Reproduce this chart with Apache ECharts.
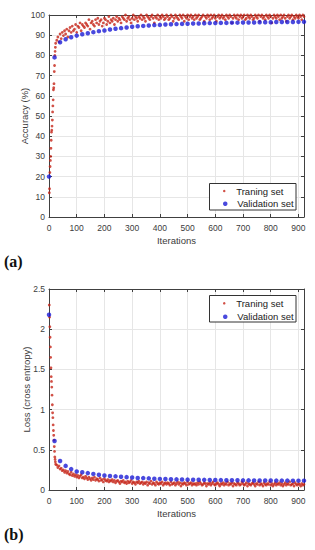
<!DOCTYPE html>
<html><head><meta charset="utf-8">
<script src="https://cdn.jsdelivr.net/npm/echarts@6/dist/echarts.min.js"></script>
<style>html,body{margin:0;padding:0;background:#fff}#c{width:315px;height:550px}</style>
</head><body><div id="c"></div>
<script>
// ---- data ----
const xTicks = [0,100,200,300,400,500,600,700,800,900];
const accTicks = [0,10,20,30,40,50,60,70,80,90,100];
const lossTicks = [0,0.5,1,1.5,2,2.5];
const xMax = 920;

const validStep = 20; // validation every 20 iterations, starting at 0
const validAcc = [20,79,86.5,88,89,89.8,90.5,91,91.5,92,92.3,92.8,93.2,93.5,93.8,94.2,94.4,94.6,94.8,95,95.1,95.3,95.4,95.5,95.6,95.7,95.8,95.8,95.9,96,96,96.1,96.1,96.2,96.2,96.3,96.3,96.3,96.4,96.4,96.4,96.5,96.5,96.5,96.5,96.6,96.6];
const validLoss = [2.18,0.61,0.36,0.30,0.26,0.23,0.22,0.21,0.20,0.19,0.18,0.175,0.17,0.165,0.16,0.155,0.15,0.148,0.145,0.14,0.138,0.136,0.134,0.132,0.13,0.129,0.128,0.127,0.126,0.125,0.124,0.123,0.122,0.122,0.121,0.12,0.12,0.119,0.119,0.118,0.118,0.117,0.117,0.117,0.116,0.116,0.116];

// training, iterations 1..24 (every iteration)
const trainEarlyStart = 1;
const trainAccEarly = [12,14,22,25,28,30,34,38,42,43,45,48,52,55,58,63,64,66,72,75,80,82,84,86];
const trainLossEarly = [2.30,2.15,2.03,1.90,1.78,1.65,1.52,1.41,1.35,1.28,1.18,1.06,0.96,0.90,0.81,0.74,0.68,0.62,0.54,0.48,0.41,0.38,0.35,0.32];

// training, iterations 28..920 every 4 iterations
const trainStart = 28, trainStep = 4;
const trainAcc = [
87.5,89.1,86.7,90.6,88.3,91.4,89.8,92.2,90.6,93.0,89.1,92.2,93.8,91.4,94.5,92.2,93.0,95.3,91.4,94.5,93.8,96.1,92.2,95.3,94.5,
93.8,96.1,95.3,94.5,97.7,93.0,96.1,96.9,95.3,94.5,97.7,96.1,98.4,95.3,96.9,97.7,94.5,96.1,98.4,97.7,95.3,96.9,99.2,96.1,97.7,
96.9,98.4,95.3,97.7,99.2,96.9,98.4,97.7,96.1,99.2,98.4,97.7,100,96.9,98.4,99.2,97.7,96.1,98.4,100,97.7,99.2,98.4,96.9,99.2,
98.4,100,97.7,99.2,98.4,96.9,100,99.2,98.4,97.7,99.2,100,98.4,96.1,99.2,98.4,100,97.7,99.2,98.4,100,99.2,97.7,98.4,100,
99.2,97.7,98.4,100,99.2,96.9,98.4,100,99.2,98.4,97.7,100,99.2,98.4,100,96.9,99.2,98.4,100,97.7,99.2,100,98.4,99.2,97.7,
100,98.4,99.2,100,97.7,98.4,99.2,100,96.9,99.2,98.4,100,99.2,97.7,100,98.4,99.2,100,98.4,96.9,99.2,100,98.4,99.2,100,
98.4,99.2,97.7,100,99.2,98.4,100,99.2,96.1,98.4,100,99.2,98.4,100,97.7,99.2,100,98.4,99.2,100,97.7,98.4,100,99.2,98.4,
100,99.2,97.7,98.4,100,99.2,98.4,100,96.9,99.2,100,98.4,99.2,97.7,100,99.2,98.4,100,99.2,96.1,98.4,100,99.2,98.4,100,
99.2,97.7,100,98.4,99.2,100,98.4,96.9,99.2,100,98.4,99.2,100,97.7,99.2,98.4,100,99.2,98.4,100,99.2,97.7,100,99.2];
const trainLoss = [
0.31,0.28,0.30,0.26,0.27,0.24,0.25,0.22,0.24,0.21,0.23,0.20,0.19,0.22,0.18,0.20,0.17,0.19,0.16,0.18,0.15,0.17,0.19,0.15,0.16,
0.14,0.17,0.15,0.13,0.16,0.14,0.12,0.15,0.13,0.16,0.12,0.14,0.13,0.11,0.15,0.12,0.13,0.10,0.14,0.12,0.11,0.13,0.10,0.12,0.11,
0.13,0.10,0.12,0.09,0.11,0.12,0.10,0.08,0.11,0.10,0.12,0.09,0.10,0.08,0.11,0.09,0.10,0.12,0.08,0.10,0.09,0.07,0.10,0.09,0.11,
0.08,0.09,0.10,0.07,0.09,0.08,0.10,0.06,0.09,0.08,0.11,0.07,0.09,0.08,0.06,0.10,0.08,0.07,0.09,0.08,0.10,0.06,0.08,0.09,0.07,
0.09,0.08,0.06,0.10,0.07,0.08,0.09,0.06,0.08,0.10,0.07,0.09,0.05,0.08,0.07,0.09,0.08,0.06,0.10,0.07,0.08,0.09,0.06,0.08,0.07,
0.08,0.06,0.09,0.07,0.10,0.08,0.06,0.07,0.09,0.08,0.05,0.08,0.07,0.09,0.06,0.08,0.10,0.07,0.06,0.08,0.09,0.07,0.05,0.08,0.07,
0.09,0.06,0.08,0.07,0.10,0.06,0.08,0.07,0.09,0.05,0.08,0.07,0.06,0.09,0.08,0.06,0.07,0.10,0.08,0.06,0.07,0.09,0.05,0.08,0.07,
0.06,0.08,0.09,0.07,0.05,0.08,0.07,0.10,0.06,0.08,0.07,0.05,0.09,0.07,0.06,0.08,0.07,0.10,0.06,0.08,0.05,0.07,0.09,0.06,0.08,
0.07,0.09,0.06,0.08,0.05,0.07,0.09,0.06,0.08,0.07,0.10,0.06,0.07,0.08,0.05,0.09,0.07,0.06,0.08,0.07,0.05,0.08,0.06,0.07];

const trainName = 'Traning set', validName = 'Validation set';

// ---- build ----
function trainPoints(early, rest){
  const pts = early.map((v,i)=>[trainEarlyStart+i, v]);
  rest.forEach((v,i)=>pts.push([trainStart+i*trainStep, v]));
  return pts;
}
function validPoints(vals){ return vals.map((v,i)=>[i*validStep, v]); }

const FONT = 'Liberation Sans, Arial, sans-serif';
const AX = '#404040', GRIDC = '#e6e6e6', TXT = '#3c3c3c';

function xAxes(gi){
  return [{
    gridIndex: gi, type:'value', min:0, max:xMax, interval:100,
    axisLine:{show:true, onZero:false, lineStyle:{color:AX, width:1}},
    axisTick:{show:true, inside:true, length:3, lineStyle:{color:AX}},
    axisLabel:{fontSize:8.5, color:TXT, fontFamily:FONT, margin:6,
      formatter: v => xTicks.includes(v) ? String(v) : ''},
    splitLine:{show:true, lineStyle:{color:GRIDC, width:1}},
    name:'Iterations', nameLocation:'middle', nameGap:18, nameMoveOverlap:false,
    nameTextStyle:{fontSize:9.5, color:TXT, fontFamily:FONT}
  },{
    gridIndex: gi, type:'value', min:0, max:xMax, interval:100, position:'top',
    axisLine:{show:true, onZero:false, lineStyle:{color:AX, width:1}},
    axisTick:{show:true, inside:true, length:3, lineStyle:{color:AX}},
    axisLabel:{show:false}, splitLine:{show:false}
  }];
}
function yAxes(gi, ticks, name, gap){
  const mx = ticks[ticks.length-1], iv = ticks[1]-ticks[0];
  return [{
    gridIndex: gi, type:'value', min:0, max:mx, interval:iv,
    axisLine:{show:true, onZero:false, lineStyle:{color:AX, width:1}},
    axisTick:{show:true, inside:true, length:3, lineStyle:{color:AX}},
    axisLabel:{fontSize:8.5, color:TXT, fontFamily:FONT, margin:4},
    splitLine:{show:true, lineStyle:{color:GRIDC, width:1}},
    name:name, nameLocation:'middle', nameGap:gap, nameRotate:90, nameMoveOverlap:false,
    nameTextStyle:{fontSize:9.5, color:TXT, fontFamily:FONT}
  },{
    gridIndex: gi, type:'value', min:0, max:mx, interval:iv, position:'right',
    axisLine:{show:true, onZero:false, lineStyle:{color:AX, width:1}},
    axisTick:{show:true, inside:true, length:3, lineStyle:{color:AX}},
    axisLabel:{show:false}, splitLine:{show:false}
  }];
}

const RED = '#c62418', BLUE = '#1c1cd6';
function legend(name, top, h, color){
  return {
    data:[{name:name, icon:'circle', itemStyle:{color:color}}],
    left:223, top:top, padding:0, itemWidth:14, itemHeight:h, itemGap:0,
    selectedMode:false, z:10,
    textStyle:{fontSize:9.5, color:'#222', fontFamily:FONT, lineHeight:12, padding:[0,0,0,0]}
  };
}

const chart = echarts.init(document.getElementById('c'), null, {renderer:'svg', width:315, height:550});
chart.setOption({
  animation:false,
  backgroundColor:'#fff',
  title:[
    {text:'(a)', left:4, top:253, padding:0, textStyle:{fontFamily:'Liberation Serif, serif', fontWeight:'bold', fontSize:16, color:'#111'}},
    {text:'(b)', left:4, top:526, padding:0, textStyle:{fontFamily:'Liberation Serif, serif', fontWeight:'bold', fontSize:16, color:'#111'}}
  ],
  grid:[
    {left:49, top:15, width:255, height:202},
    {left:49, top:289, width:255, height:201}
  ],
  xAxis:[...xAxes(0), ...xAxes(1)],
  yAxis:[...yAxes(0, accTicks, 'Accuracy (%)', 20), ...yAxes(1, lossTicks, 'Loss (cross entropy)', 18)],
  legend:[
    legend(trainName, 185, 2.5, RED),
    legend(validName, 197.7, 4.5, BLUE),
    legend(trainName, 297.3, 2.5, RED),
    legend(validName, 310.7, 4.5, BLUE)
  ],
  graphic:[
    {type:'rect', shape:{x:209.5, y:183.5, width:86.5, height:26.5}, style:{fill:'#fff', stroke:'#333', lineWidth:1}, z:5},
    {type:'rect', shape:{x:209.5, y:295.5, width:86.5, height:26.5}, style:{fill:'#fff', stroke:'#333', lineWidth:1}, z:5}
  ],
  series:[
    {name:trainName, type:'scatter', xAxisIndex:0, yAxisIndex:0, data:trainPoints(trainAccEarly, trainAcc),
     symbol:'circle', symbolSize:2.8, itemStyle:{color:RED}, z:2},
    {name:validName, type:'scatter', xAxisIndex:0, yAxisIndex:0, data:validPoints(validAcc),
     symbol:'circle', symbolSize:4.5, itemStyle:{color:BLUE}, z:3},
    {name:trainName, type:'scatter', xAxisIndex:2, yAxisIndex:2, data:trainPoints(trainLossEarly, trainLoss),
     symbol:'circle', symbolSize:2.8, itemStyle:{color:RED}, z:2},
    {name:validName, type:'scatter', xAxisIndex:2, yAxisIndex:2, data:validPoints(validLoss),
     symbol:'circle', symbolSize:4.5, itemStyle:{color:BLUE}, z:3}
  ]
});
</script></body></html>
